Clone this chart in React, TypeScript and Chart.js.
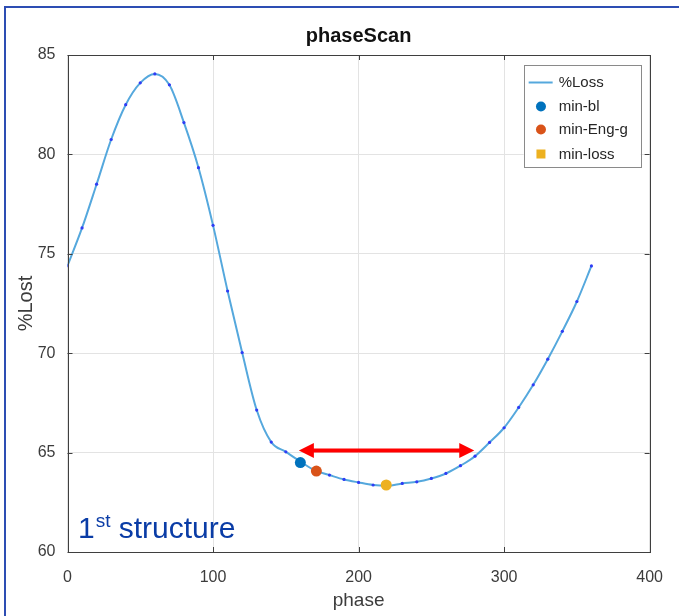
import React, { useEffect, useRef } from "react";
import { Chart, registerables } from "chart.js";

Chart.register(...registerables);

// ---- data ----
const phase = [0, 10, 20, 30, 40, 50, 60, 70, 80, 90, 100, 110, 120, 130, 140, 150, 160, 170, 180, 190, 200, 210, 220, 230, 240, 250, 260, 270, 280, 290, 300, 310, 320, 330, 340, 350, 360];
const lossValues = [74.4, 76.3, 78.5, 80.75, 82.5, 83.6, 84.05, 83.5, 81.6, 79.33, 76.43, 73.13, 70.03, 67.14, 65.53, 65.04, 64.55, 64.1, 63.87, 63.65, 63.5, 63.37, 63.33, 63.45, 63.53, 63.7, 63.95, 64.34, 64.82, 65.51, 66.25, 67.27, 68.41, 69.7, 71.1, 72.6, 74.39];
const minBlPoint = [160, 64.5];
const minEngPoint = [171, 64.07];
const minLossPoint = [219, 63.37];
const legendLabels = ["%Loss", "min-bl", "min-Eng-g", "min-loss"];
const xTicks = [0, 100, 200, 300, 400];
const yTicks = [60, 65, 70, 75, 80, 85];
const arrowX = [159, 279.5];
const arrowY = 65.1;
const noteText = ["1", "st", " structure"];
const notePos = [7.2, 60.72];

const FONT = "'Liberation Sans', Arial, Helvetica, sans-serif";
const LINE_COLOR = "#55a8dd";
const MARKER_COLORS = ["#0072BD", "#D95319", "#EDB120"];

const framePlugin = {
  id: "frameAndExtras",
  afterDatasetsDraw(chart: any) {
    const { ctx, scales } = chart;
    const xs = scales.x;
    const ys = scales.y;
    const x1 = xs.getPixelForValue(arrowX[0]);
    const x2 = xs.getPixelForValue(arrowX[1]);
    const ay = ys.getPixelForValue(arrowY);
    const head = 15;
    const hh = 7.5;
    ctx.save();
    ctx.fillStyle = "#ff0000";
    ctx.strokeStyle = "#ff0000";
    ctx.lineWidth = 4;
    ctx.beginPath();
    ctx.moveTo(x1 + head - 1, ay);
    ctx.lineTo(x2 - head + 1, ay);
    ctx.stroke();
    ctx.beginPath();
    ctx.moveTo(x1, ay);
    ctx.lineTo(x1 + head, ay - hh);
    ctx.lineTo(x1 + head, ay + hh);
    ctx.closePath();
    ctx.fill();
    ctx.beginPath();
    ctx.moveTo(x2, ay);
    ctx.lineTo(x2 - head, ay - hh);
    ctx.lineTo(x2 - head, ay + hh);
    ctx.closePath();
    ctx.fill();
    ctx.restore();
  },
  afterDraw(chart: any) {
    const { ctx, chartArea, scales } = chart;
    const { left, right, top, bottom } = chartArea;
    const xs = scales.x;
    const ys = scales.y;
    ctx.save();
    ctx.strokeStyle = "#3f3f3f";
    ctx.lineWidth = 1;
    ctx.strokeRect(Math.round(left) + 0.5, Math.round(top) + 0.5, Math.round(right - left), Math.round(bottom - top));
    const tl = 5;
    ctx.beginPath();
    xTicks.forEach((v) => {
      const px = Math.round(xs.getPixelForValue(v)) + 0.5;
      ctx.moveTo(px, bottom);
      ctx.lineTo(px, bottom - tl);
      ctx.moveTo(px, top);
      ctx.lineTo(px, top + tl);
    });
    yTicks.forEach((v) => {
      const py = Math.round(ys.getPixelForValue(v)) + 0.5;
      ctx.moveTo(left, py);
      ctx.lineTo(left + tl, py);
      ctx.moveTo(right, py);
      ctx.lineTo(right - tl, py);
    });
    ctx.stroke();

    // legend
    const bw = 117;
    const bh = 102;
    const bx = right - 126;
    const by = top + 10;
    ctx.fillStyle = "#ffffff";
    ctx.fillRect(bx, by, bw, bh);
    ctx.strokeStyle = "#8a8a8a";
    ctx.strokeRect(Math.round(bx) + 0.5, Math.round(by) + 0.5, bw, bh);
    ctx.font = `15px ${FONT}`;
    ctx.textBaseline = "middle";
    ctx.textAlign = "left";
    const rowY = [17.5, 41.5, 64.5, 89];
    legendLabels.forEach((lab, i) => {
      const cy = by + rowY[i];
      if (i === 0) {
        ctx.strokeStyle = LINE_COLOR;
        ctx.lineWidth = 2;
        ctx.beginPath();
        ctx.moveTo(bx + 5, cy);
        ctx.lineTo(bx + 29, cy);
        ctx.stroke();
      } else {
        ctx.fillStyle = MARKER_COLORS[i - 1];
        ctx.beginPath();
        if (i === 3) {
          const s = 4.5;
          ctx.rect(bx + 17.3 - s, cy - s, 2 * s, 2 * s);
        } else {
          ctx.arc(bx + 17.3, cy, 5, 0, Math.PI * 2);
        }
        ctx.fill();
      }
      ctx.fillStyle = "#262626";
      ctx.fillText(lab, bx + 35, cy + 0.5);
    });

    // note text
    const nx = xs.getPixelForValue(notePos[0]);
    const ny = ys.getPixelForValue(notePos[1]);
    ctx.fillStyle = "#0a3ca6";
    ctx.textBaseline = "alphabetic";
    ctx.font = `30px ${FONT}`;
    ctx.fillText(noteText[0], nx, ny);
    let w = ctx.measureText(noteText[0]).width + 1;
    ctx.font = `19px ${FONT}`;
    ctx.fillText(noteText[1], nx + w, ny - 11);
    w += ctx.measureText(noteText[1]).width;
    ctx.font = `30px ${FONT}`;
    ctx.fillText(noteText[2], nx + w, ny);
    ctx.restore();
  },
};

export default function App() {
  const ref = useRef<HTMLCanvasElement | null>(null);
  useEffect(() => {
    if (!ref.current) return;
    Chart.defaults.font.family = FONT;
    const chart = new Chart(ref.current, {
      type: "scatter",
      data: {
        datasets: [
          {
            label: legendLabels[1],
            data: [{ x: minBlPoint[0], y: minBlPoint[1] }],
            backgroundColor: MARKER_COLORS[0],
            borderColor: MARKER_COLORS[0],
            pointRadius: 5.5,
            pointBorderWidth: 0,
            order: 0,
          },
          {
            label: legendLabels[2],
            data: [{ x: minEngPoint[0], y: minEngPoint[1] }],
            backgroundColor: MARKER_COLORS[1],
            borderColor: MARKER_COLORS[1],
            pointRadius: 5.5,
            pointBorderWidth: 0,
            order: 0,
          },
          {
            label: legendLabels[3],
            data: [{ x: minLossPoint[0], y: minLossPoint[1] }],
            backgroundColor: MARKER_COLORS[2],
            borderColor: MARKER_COLORS[2],
            pointRadius: 5.5,
            pointBorderWidth: 0,
            order: 0,
          },
          {
            label: legendLabels[0],
            data: phase.map((x, i) => ({ x, y: lossValues[i] })),
            showLine: true,
            borderColor: LINE_COLOR,
            borderWidth: 2,
            backgroundColor: "#2f3cf5",
            pointRadius: 1.6,
            pointBorderWidth: 0,
            cubicInterpolationMode: "monotone",
            order: 1,
          } as any,
        ],
      },
      options: {
        animation: false,
        responsive: false,
        maintainAspectRatio: false,
        layout: { padding: { left: 0, right: 27, top: 0, bottom: 0 } },
        plugins: {
          legend: { display: false },
          tooltip: { enabled: false },
          title: {
            display: true,
            text: "phaseScan",
            fullSize: false,
            color: "#111111",
            font: { size: 20, weight: "bold", family: FONT },
            padding: { top: 24, bottom: 7 },
          },
        },
        scales: {
          x: {
            type: "linear",
            min: 0,
            max: 400,
            afterBuildTicks: (s: any) => {
              s.ticks = xTicks.map((v) => ({ value: v }));
            },
            afterFit: (s: any) => {
              s.height = 64;
            },
            grid: { color: "#e3e3e3", drawTicks: false, lineWidth: 1 },
            border: { display: false },
            ticks: { color: "#3c3c3c", font: { size: 16 }, padding: 16 },
            title: {
              display: true,
              text: "phase",
              color: "#3c3c3c",
              font: { size: 19 },
              padding: { top: 0, bottom: 4 },
            },
          },
          y: {
            type: "linear",
            min: 60,
            max: 85,
            afterBuildTicks: (s: any) => {
              s.ticks = yTicks.map((v) => ({ value: v }));
            },
            afterFit: (s: any) => {
              s.width = 67.5;
            },
            grid: { color: "#e3e3e3", drawTicks: false, lineWidth: 1 },
            border: { display: false },
            ticks: { color: "#3c3c3c", font: { size: 16 }, padding: 12 },
            title: {
              display: true,
              text: "%Lost",
              color: "#3c3c3c",
              font: { size: 20 },
              padding: { top: 14, bottom: 0 },
            },
          },
        },
      },
      plugins: [framePlugin],
    });
    return () => chart.destroy();
  }, []);

  return (
    <div style={{ position: "fixed", left: 0, top: 0, width: 679, height: 616, background: "#ffffff" }}>
      <canvas ref={ref} width={679} height={616} style={{ display: "block" }} />
      <div
        style={{
          position: "absolute",
          left: 4,
          top: 6,
          width: 700,
          height: 700,
          borderLeft: "2px solid #2d4db3",
          borderTop: "2px solid #2d4db3",
          pointerEvents: "none",
        }}
      />
    </div>
  );
}
